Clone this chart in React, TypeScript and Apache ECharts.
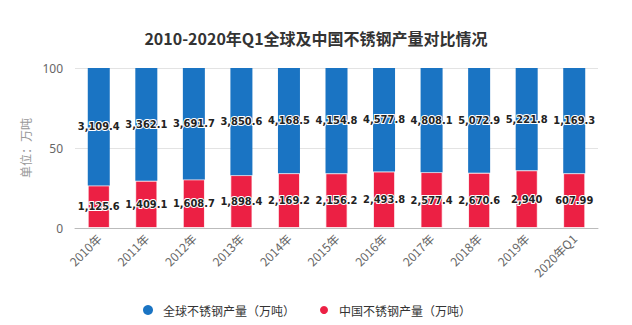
import React, { useEffect, useRef } from "react";
import * as echarts from "echarts";

const categories = ["2010年", "2011年", "2012年", "2013年", "2014年", "2015年", "2016年", "2017年", "2018年", "2019年", "2020年Q1"];
const globalOutput = [3109.4, 3362.1, 3691.7, 3850.6, 4168.5, 4154.8, 4577.8, 4808.1, 5072.9, 5221.8, 1169.3];
const chinaOutput = [1125.6, 1409.1, 1608.7, 1898.4, 2169.2, 2156.2, 2493.8, 2577.4, 2670.6, 2940, 607.99];
const yTicks = [0, 50, 100];

const fmt = (v: number) => v.toLocaleString("en-US", { maximumFractionDigits: 2 });

export default function App() {
  const ref = useRef<HTMLDivElement>(null);
  useEffect(() => {
    if (!ref.current) return;
    const chart = echarts.init(ref.current, null, { renderer: "svg" });
    const totals = globalOutput.map((g, i) => g + chinaOutput[i]);
    const chinaPct = chinaOutput.map((v, i) => ({ value: (v / totals[i]) * 100, raw: v }));
    const globalPct = globalOutput.map((v, i) => ({ value: (v / totals[i]) * 100, raw: v }));
    const labelStyle = {
      show: true,
      position: "inside",
      color: "#222",
      fontSize: 11,
      fontWeight: "bold",
      fontFamily: "DejaVu Sans Condensed",
      textBorderColor: "#fff",
      textBorderWidth: 2,
      formatter: (p: any) => fmt(p.data.raw),
    };
    chart.setOption({
      animation: false,
      backgroundColor: "#fff",
      title: {
        text: "2010-2020年Q1全球及中国不锈钢产量对比情况",
        left: 311,
        textAlign: "center",
        top: 25,
        textStyle: { fontSize: 16, fontWeight: "bold", color: "#333", fontFamily: "Noto Sans CJK SC" },
      },
      legend: {
        left: 138,
        top: 299,
        icon: "circle",
        itemWidth: 20,
        itemHeight: 10,
        itemGap: 23,
        textStyle: { fontSize: 12, color: "#333", fontFamily: "Noto Sans CJK SC" },
        data: ["全球不锈钢产量（万吨）", "中国不锈钢产量（万吨）"],
      },
      grid: { left: 75, right: 34, top: 68, bottom: 97, containLabel: false },
      xAxis: {
        type: "category",
        data: categories,
        axisLine: { lineStyle: { color: "#bbb" } },
        axisTick: { alignWithLabel: true, length: 5, lineStyle: { color: "#bbb" } },
        axisLabel: { rotate: 45, fontSize: 12, color: "#666", margin: 8, interval: 0, fontFamily: "Noto Sans CJK SC" },
      },
      yAxis: {
        type: "value",
        min: yTicks[0],
        max: yTicks[yTicks.length - 1],
        interval: 50,
        name: "单位：万吨",
        nameLocation: "middle",
        nameGap: 44,
        nameTextStyle: { fontSize: 12, color: "#999", fontFamily: "Noto Sans CJK SC" },
        axisLine: { show: false },
        axisTick: { show: false },
        axisLabel: { fontSize: 12, color: "#666", margin: 12, fontFamily: "Noto Sans" },
        splitLine: { lineStyle: { color: "#e3e3e3" } },
      },
      series: [
        {
          name: "中国不锈钢产量（万吨）",
          type: "bar",
          stack: "total",
          barWidth: 22,
          itemStyle: { color: "#ec2044", borderColor: "#fff", borderWidth: 0.8 },
          label: labelStyle,
          data: chinaPct,
        },
        {
          name: "全球不锈钢产量（万吨）",
          type: "bar",
          stack: "total",
          barWidth: 22,
          itemStyle: { color: "#1a74c3" },
          label: labelStyle,
          data: globalPct,
        },
      ],
    });
    return () => chart.dispose();
  }, []);
  return <div ref={ref} style={{ width: 632, height: 325, position: "absolute", left: 0, top: 0 }} />;
}
